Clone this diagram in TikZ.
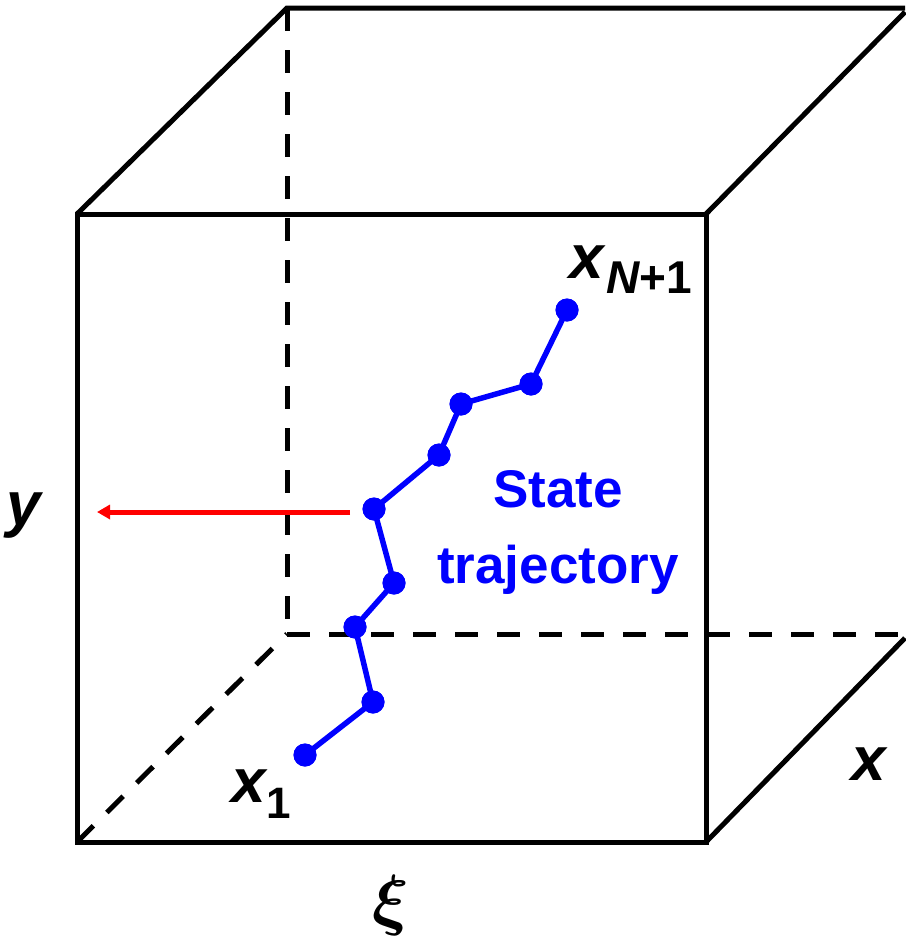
\documentclass[tikz,border=0pt]{standalone}
\usepackage{amsmath}
\usepackage{fontspec}
\setmainfont{Liberation Sans}
\usetikzlibrary{arrows.meta}
\begin{document}
\begin{tikzpicture}[x=1pt,y=-1pt,
  edge/.style={line width=5pt, line join=miter},
  hidden/.style={line width=5pt, dash pattern=on 23pt off 19pt},
  traj/.style={blue, line width=5.5pt},
  dot/.style={circle, fill=blue, inner sep=0pt, minimum size=23pt},
  lbl/.style={inner sep=0pt, anchor=base west},
  bigit/.style={font=\fontsize{62}{62}\selectfont\bfseries\itshape},
  statefont/.style={font=\fontsize{53}{53}\selectfont\bfseries, text=blue, inner sep=0pt, anchor=base}
]
\useasboundingbox (0,0) rectangle (905,937);
% cube corners
\coordinate (fbl) at (77,842);
\coordinate (fbr) at (706,842);
\coordinate (ftr) at (706,214);
\coordinate (ftl) at (77,214);
\coordinate (btl) at (287,8);
\coordinate (btr) at (905,8);
\coordinate (btr2) at (905,12);
\coordinate (bbr) at (905,638);
\coordinate (bbl) at (287,634);
\coordinate (bbe) at (905,634);
% front face and visible edges
\draw[edge] (fbl) -- (fbr) -- (ftr) -- (ftl) -- cycle;
\draw[edge] (ftl) -- (btl) -- (btr);
\draw[edge] (ftr) -- (btr2);
\draw[edge] (fbr) -- (bbr);
% hidden edges
\draw[hidden] (btl) -- (bbl);
\draw[hidden] (bbl) -- (bbe);
\draw[hidden] (fbl) -- (bbl);
% red arrow
\coordinate (rs) at (350,512);
\coordinate (re) at (97,512);
\draw[red, line width=5pt, -{Triangle[length=13pt,width=14pt]}] (rs) -- (re);
% trajectory
\node[dot] (p1) at (305,755) {};
\node[dot] (p2) at (373,702) {};
\node[dot] (p3) at (355,627) {};
\node[dot] (p4) at (394,583) {};
\node[dot] (p5) at (374,509) {};
\node[dot] (p6) at (439,455) {};
\node[dot] (p7) at (461,404) {};
\node[dot] (p8) at (531,384) {};
\node[dot] (p9) at (567,310) {};
\draw[traj] (p1.center) -- (p2.center) -- (p3.center) -- (p4.center) -- (p5.center) -- (p6.center) -- (p7.center) -- (p8.center) -- (p9.center);
\foreach \p in {p1,p2,p3,p4,p5,p6,p7,p8,p9} \fill[blue] (\p) circle (11.5pt);
% labels
\node[lbl, bigit] (xN) at (569,278) {x\kern3pt\raisebox{-15pt}{\fontsize{46}{46}\selectfont\bfseries{\itshape N}\upshape +1}};
\node[lbl, bigit] (x1) at (231,802) {x\kern1pt\raisebox{-16pt}{\fontsize{44}{44}\selectfont\bfseries\upshape 1}};
\node[lbl, bigit] (ylab) at (6,525) {y};
\node[lbl, bigit] (xlab) at (851,780) {x};
\node[inner sep=0pt, scale=6.8] (xi) at (391,905) {$\boldsymbol{\xi}$};
\node[statefont] (st1) at (558,507) {State};
\node[statefont] (st2) at (558,583) {trajectory};
\end{tikzpicture}
\end{document}
